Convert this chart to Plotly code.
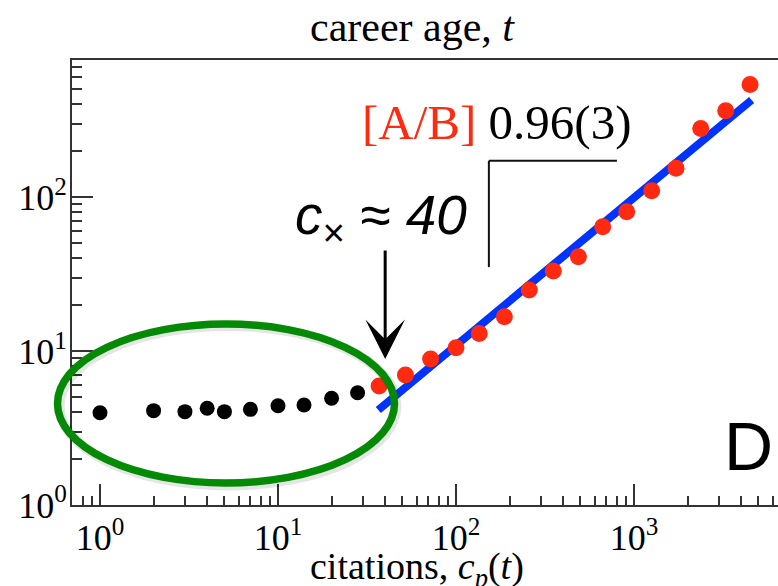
import math
import plotly.graph_objects as go

# early-career points (before the crossover)
black_x = [1, 2, 3, 4, 5, 7, 10, 14, 20, 28]
black_y = [3.97, 4.10, 4.04, 4.25, 4.04, 4.18, 4.41, 4.46, 4.93, 5.36]

# points in the power-law regime
red_x = [37, 52, 72, 100, 135, 187, 258, 352, 487, 667, 910, 1257, 1722, 2371, 3274, 4487]
red_y = [5.93, 6.98, 8.87, 10.5, 13.0, 16.7, 24.9, 33.1, 41.0, 64.1, 80.3, 110, 154, 279, 363, 539]

# power-law fit t ~ c^0.96 starting near the crossover
fit_slope = 0.96
fit_x = [36.6, 4580]
fit_y0 = 4.14
fit_y = [fit_y0 * (x / fit_x[0]) ** fit_slope for x in fit_x]

crossover = 40

x_tickvals = [1, 10, 100, 1000]
x_ticktext = ["10<sup>0</sup>", "10<sup>1</sup>", "10<sup>2</sup>", "10<sup>3</sup>"]
y_tickvals = [1, 10, 100]
y_ticktext = ["10<sup>0</sup>", "10<sup>1</sup>", "10<sup>2</sup>"]

W, H = 778, 586
ML, MR, MT, MB = 72, 0, 60, 81
PW, PH = W - ML - MR, H - MT - MB


def px(x):
    return (x - ML) / PW


def py(y):
    return (H - MB - y) / PH


def minor_vals(lo, hi):
    out = []
    for d in range(lo, hi + 1):
        for k in range(2, 10):
            out.append(k * 10 ** d)
    return out


SERIF = "Liberation Serif"
SANS = "Liberation Sans"
AX = "#333333"

fig = go.Figure()
fig.add_trace(go.Scatter(x=fit_x, y=fit_y, mode="lines",
                         line=dict(color="#0033ff", width=8), hoverinfo="skip"))
fig.add_trace(go.Scatter(x=red_x, y=red_y, mode="markers",
                         marker=dict(color="#ff2a10", size=17, line=dict(width=0))))
fig.add_trace(go.Scatter(x=black_x, y=black_y, mode="markers",
                         marker=dict(color="#000000", size=15, line=dict(width=0))))

axis_common = dict(type="log", showgrid=False, zeroline=False, showline=True,
                   linecolor=AX, linewidth=2, ticks="inside", ticklen=21,
                   tickwidth=1.5, tickcolor=AX, tickmode="array",
                   tickfont=dict(family=SERIF, size=36, color="black"))

fig.update_layout(
    width=W, height=H, margin=dict(l=ML, r=MR, t=MT, b=MB),
    paper_bgcolor="white", plot_bgcolor="white", showlegend=False,
    xaxis=dict(**axis_common, range=[-0.1573, 3.809], mirror=True,
               tickvals=x_tickvals, ticktext=x_ticktext,
               minor=dict(tickmode="array", tickvals=minor_vals(-1, 3), ticks="inside",
                          ticklen=9, tickwidth=1.5, tickcolor=AX)),
    yaxis=dict(**axis_common, range=[0, 2.89], mirror=False,
               tickvals=y_tickvals, ticktext=y_ticktext, ticklabelstandoff=-4,
               minor=dict(tickmode="array", tickvals=minor_vals(0, 2), ticks="inside",
                          ticklen=10, tickwidth=1.5, tickcolor=AX)),
)

# highlighted early-career region (soft shadow, then the ring)
fig.add_shape(type="circle", xref="paper", yref="paper", layer="above",
              x0=px(59.5), x1=px(396.5), y0=py(485.5), y1=py(326),
              line=dict(color="rgba(0,0,0,0.10)", width=10))
fig.add_shape(type="circle", xref="paper", yref="paper", layer="above",
              x0=px(57.5), x1=px(394.5), y0=py(483), y1=py(324),
              line=dict(color="#058a05", width=7.5))

# slope indicator
tri_x0, tri_x1 = 153, 802
tri_top = 172
tri_bot = tri_top / (tri_x1 / tri_x0) ** fit_slope
fig.add_shape(type="line", xref="x", yref="y", x0=tri_x0, x1=tri_x1, y0=tri_top, y1=tri_top,
              line=dict(color="#111111", width=2))
fig.add_shape(type="line", xref="x", yref="y", x0=tri_x0, x1=tri_x0, y0=tri_top, y1=tri_bot,
              line=dict(color="#111111", width=2))

# crossover arrow
fig.add_annotation(x=math.log10(crossover), xref="x", y=py(359), yref="paper",
                   text="", showarrow=True, ax=0, ay=-110, arrowhead=3,
                   arrowsize=2.2, arrowwidth=3, arrowcolor="black", standoff=0)

fig.add_annotation(x=px(381), y=py(219), xref="paper", yref="paper",
                   text="<i>c</i><sub>×</sub> ≈ <i>40</i>", showarrow=False,
                   xanchor="center", yanchor="middle",
                   font=dict(family=SANS, size=55, color="black"))

fig.add_annotation(x=px(360), y=py(123), xref="paper", yref="paper",
                   text="<span style='color:#ff2a10'>[A/B]</span> 0.96(3)", showarrow=False,
                   xanchor="left", yanchor="middle",
                   font=dict(family=SERIF, size=49, color="black"))

fig.add_annotation(x=px(722), y=py(446), xref="paper", yref="paper",
                   text="D", showarrow=False, xanchor="left", yanchor="middle",
                   font=dict(family=SANS, size=68, color="black"))

fig.add_annotation(x=px(412), y=py(27), xref="paper", yref="paper",
                   text="career age, <i>t</i>", showarrow=False,
                   xanchor="center", yanchor="middle",
                   font=dict(family=SERIF, size=42, color="black"))

fig.add_annotation(x=px(417), y=py(569), xref="paper", yref="paper",
                   text="citations, <i>c<sub>p</sub></i>(<i>t</i>)", showarrow=False,
                   xanchor="center", yanchor="middle",
                   font=dict(family=SERIF, size=38, color="black"))

fig.write_html("out.html")
